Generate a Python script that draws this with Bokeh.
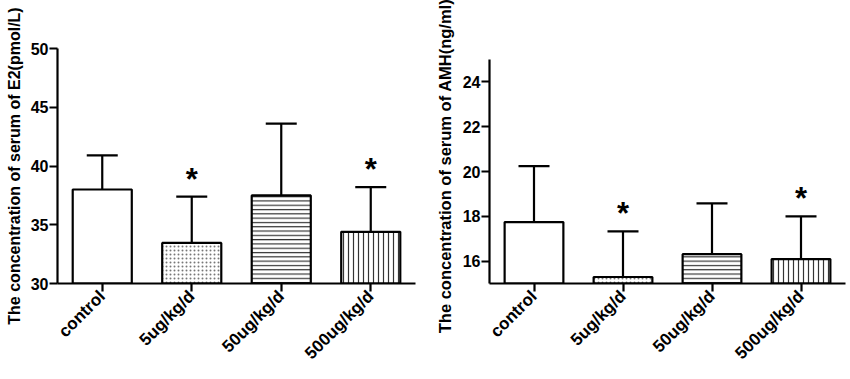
from bokeh.plotting import figure
from bokeh.models import (FactorRange, Range1d, FixedTicker, ColumnDataSource,
                          Whisker, TeeHead)
from bokeh.layouts import row
from bokeh.embed import file_html
from bokeh.resources import INLINE
from bokeh.core.properties import value
import math

categories = ["control", "5ug/kg/d", "50ug/kg/d", "500ug/kg/d"]
e2_mean = [38.0, 33.45, 37.5, 34.4]
e2_upper = [40.9, 37.4, 43.6, 38.2]
amh_mean = [17.74, 15.29, 16.31, 16.09]
amh_upper = [20.24, 17.33, 18.58, 18.0]
significant = [False, True, False, True]
e2_ticks = [30, 35, 40, 45, 50]
amh_ticks = [16, 18, 20, 22, 24]

hatches = [" ", "dot", "horizontal_line", "vertical_line"]
hatch_colors = ["black", "#777777", "#333333", "#333333"]
hatch_scales = [6, 4, 4.3, 5]
hatch_weights = [1, 1.2, 1.2, 1.2]

FONT = "Liberation Sans"


def make_panel(means, uppers, ylo, yhi, yview_hi, ticks, ylabel, width,
               bl, br, label_size, label_standoff):
    p = figure(x_range=FactorRange(*categories),
               y_range=Range1d(ylo, yview_hi),
               width=width, height=379, output_backend="svg", title=None,
               toolbar_location=None, min_border_left=bl, min_border_right=br,
               min_border_top=48, min_border_bottom=96)
    p.outline_line_color = None
    p.xgrid.visible = False
    p.ygrid.visible = False
    p.background_fill_color = "white"
    p.border_fill_color = "white"

    src = ColumnDataSource(dict(x=categories, top=means, bottom=[ylo] * 4,
                                upper=uppers, hatch=hatches,
                                hc=hatch_colors, hs=hatch_scales,
                                hw=hatch_weights))
    p.vbar(x="x", top="top", bottom="bottom", width=0.66, source=src,
           fill_color="white", line_color="black", line_width=2.2,
           hatch_pattern="hatch", hatch_color="hc", hatch_scale="hs",
           hatch_weight="hw")

    w = Whisker(base="x", upper="upper", lower="top", source=src,
                line_color="black", line_width=2.2,
                upper_head=TeeHead(size=31, line_width=2.2, line_color="black"),
                lower_head=None)
    p.add_layout(w)

    sx = [c for c, s in zip(categories, significant) if s]
    sy = [u for u, s in zip(uppers, significant) if s]
    p.text(x=sx, y=sy, text=["*"] * len(sx), text_align="center",
           text_baseline="bottom", text_font=value(FONT),
           text_font_size="31px", text_font_style="bold", y_offset=0,
           text_color="black")

    p.yaxis.ticker = FixedTicker(ticks=ticks)
    p.yaxis.bounds = (ylo, yhi)
    p.yaxis.minor_tick_line_color = None
    p.yaxis.major_tick_in = 0
    p.yaxis.major_tick_out = 8
    p.xaxis.major_tick_in = 0
    p.xaxis.major_tick_out = 8
    for ax in (p.xaxis, p.yaxis):
        ax.axis_line_width = 2.2
        ax.major_tick_line_width = 2.2
        ax.axis_line_color = "black"
        ax.major_tick_line_color = "black"
        ax.major_label_text_font = FONT
        ax.major_label_text_font_style = "bold"
        ax.major_label_text_color = "black"
    p.yaxis.major_label_text_font_size = "16px"
    p.yaxis.major_label_standoff = 1
    p.xaxis.major_label_text_font_size = "17px"
    p.xaxis.major_label_orientation = math.pi / 4
    p.xaxis.major_label_standoff = 2
    p.yaxis.axis_label = ylabel
    p.yaxis.axis_label_text_font = FONT
    p.yaxis.axis_label_text_font_style = "bold"
    p.yaxis.axis_label_text_font_size = label_size
    p.yaxis.axis_label_text_color = "black"
    p.yaxis.axis_label_standoff = label_standoff
    return p


# right panel: axis spans 15..25 between y=59 and y=283 (22.4 px/unit);
# frame top is at y=48, so the visible range reaches 25 + 11/22.4
p1 = make_panel(e2_mean, e2_upper, 30, 50, 50, e2_ticks,
                "The concentration of serum of E2(pmol/L)", 420, 57, 5,
                "16px", 5)
p2 = make_panel(amh_mean, amh_upper, 15, 25, 25 + 11 / 22.4, amh_ticks,
                "The concentration of serum of AMH(ng/ml)", 430, 69, 5,
                "16.5px", 6)

layout = row(p1, p2)
open("out.html", "w").write(file_html(layout, INLINE))
